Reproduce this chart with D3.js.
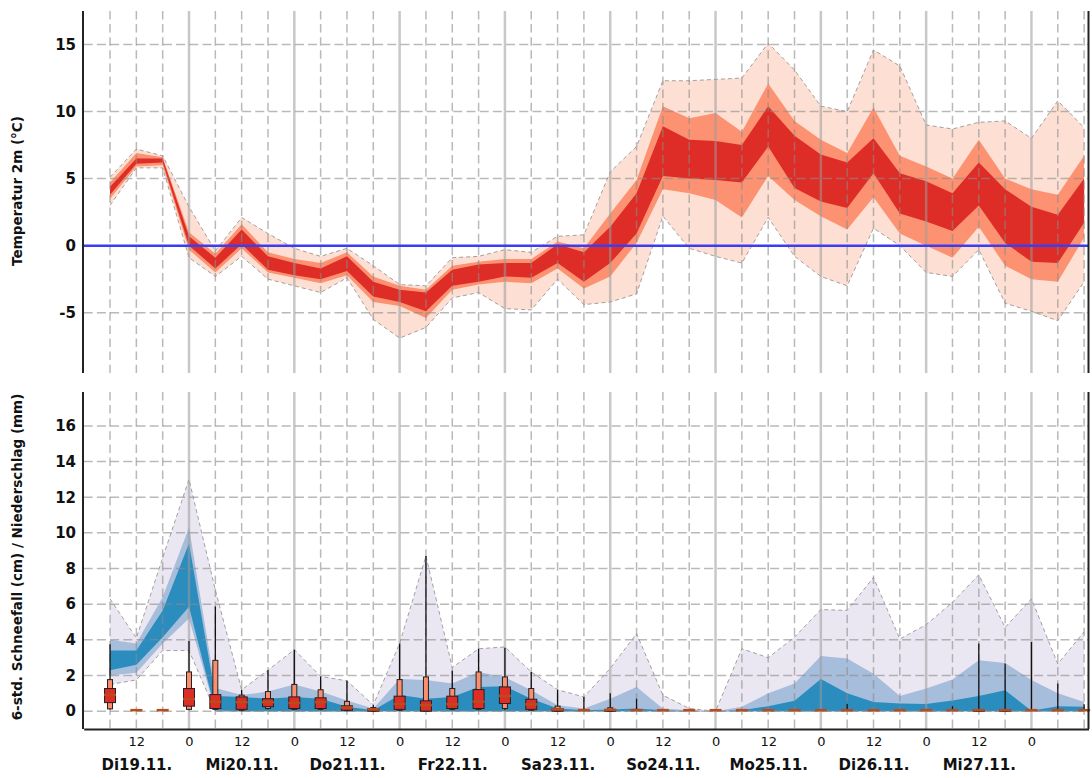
<!DOCTYPE html>
<html>
<head>
<meta charset="utf-8">
<script src="https://cdn.jsdelivr.net/npm/d3@7"></script>
<style>
    body { margin: 0; background: #fff; }
    svg { display: block; font-family: "DejaVu Sans", sans-serif; }
</style>
</head>
<body>
<div id="chart"></div>
<script>
// forecast steps, hours after 19.11. 00:00
var hours = [6, 12, 18, 24, 30, 36, 42, 48, 54, 60, 66, 72, 78, 84, 90, 96, 102, 108, 114, 120,
    126, 132, 138, 144, 150, 156, 162, 168, 174, 180, 186, 192, 198, 204, 210, 216, 222, 228];

// temperature 2m ensemble (°C)
var tMax = [5.1, 7.2, 6.7, 2.9, -0.4, 2.1, 0.9, -0.2, -0.8, -0.2, -1.5, -2.9, -3.0, -0.9, -0.8, -0.3, -0.5, 0.7, 0.8, 5.5,
    7.4, 12.3, 12.3, 12.4, 12.5, 15.1, 13.1, 10.4, 10.0, 14.6, 13.4, 9.0, 8.7, 9.2, 9.3, 8.0, 10.8, 8.8];
var tP90 = [4.7, 6.9, 6.6, 1.0, -0.6, 1.6, -0.5, -1.0, -1.3, -0.5, -2.3, -3.0, -3.3, -1.5, -1.2, -1.0, -1.0, 0.3, -0.2, 2.4,
    4.9, 10.4, 9.5, 9.9, 8.5, 12.1, 9.3, 7.9, 6.9, 10.3, 6.7, 5.9, 5.0, 7.9, 5.0, 4.2, 3.8, 6.7];
var tP75 = [4.4, 6.5, 6.5, 0.7, -0.9, 1.2, -0.8, -1.3, -1.7, -0.8, -2.7, -3.3, -3.5, -1.8, -1.4, -1.3, -1.3, 0.1, -0.5, 1.4,
    3.9, 8.9, 7.9, 7.8, 7.5, 10.4, 8.2, 6.8, 6.2, 8.0, 5.4, 4.8, 3.9, 6.2, 4.2, 2.9, 2.3, 5.0];
var tP25 = [3.8, 6.1, 6.2, 0.0, -1.7, 0.1, -1.8, -2.2, -2.5, -1.9, -3.8, -4.2, -4.9, -3.0, -2.7, -2.3, -2.4, -1.3, -2.7, -1.3,
    0.9, 5.2, 5.0, 4.9, 4.7, 7.4, 4.3, 3.3, 2.8, 5.4, 2.4, 1.8, 1.1, 3.0, 0.2, -1.2, -1.3, 1.7];
var tP10 = [3.5, 5.9, 6.0, -0.3, -2.0, -0.2, -2.0, -2.4, -2.8, -2.2, -4.2, -4.5, -5.4, -3.3, -2.9, -2.7, -2.8, -1.7, -3.2, -2.3,
    0.2, 4.2, 3.9, 3.4, 2.1, 5.2, 3.4, 2.2, 1.2, 3.6, 0.9, 0.0, -0.9, 1.4, -1.5, -2.5, -2.7, 0.6];
var tMin = [3.0, 5.8, 5.8, -0.9, -2.3, -0.8, -2.5, -3.0, -3.5, -2.4, -5.5, -6.9, -6.1, -3.9, -3.5, -4.7, -4.8, -2.5, -4.4, -4.2,
    -3.6, 2.2, -0.2, -0.8, -1.3, 2.1, -0.8, -2.3, -3.0, 1.3, 0.0, -2.0, -2.3, -0.3, -4.3, -4.9, -5.6, -2.7];

// 6h precipitation ensemble (mm)
var pMax = [6.3, 4.1, 8.6, 13.0, 6.8, 1.2, 2.3, 3.45, 1.95, 1.7, 0.35, 3.8, 8.7, 2.45, 3.5, 3.6, 2.2, 1.2, 0.8, 2.4,
    4.35, 0.9, 0.15, 0, 3.5, 3.0, 4.15, 5.7, 5.65, 7.5, 4.05, 4.85, 6.1, 7.65, 4.7, 6.3, 2.65, 4.45];
var pP90 = [4.0, 3.8, 6.4, 10.3, 1.3, 0.9, 1.1, 1.5, 1.1, 0.6, 0.15, 1.8, 1.75, 1.55, 2.2, 1.9, 1.17, 0.33, 0.15, 0.7,
    1.36, 0.15, 0.05, 0, 0.25, 1.0, 1.55, 3.1, 2.95, 2.1, 0.85, 1.27, 1.77, 2.85, 2.7, 1.75, 1.0, 0.52];
var pP75 = [3.4, 3.4, 5.65, 9.4, 0.85, 0.8, 0.7, 0.8, 0.7, 0.25, 0.05, 0.9, 0.7, 0.8, 1.35, 1.4, 0.7, 0.15, 0.05, 0.1,
    0.15, 0.05, 0, 0, 0.05, 0.28, 0.58, 1.8, 1.0, 0.52, 0.43, 0.4, 0.6, 0.85, 1.17, 0.02, 0.28, 0.25];
var pP25 = [2.3, 2.6, 4.15, 5.85, 0.05, 0, 0, 0, 0, 0, 0, 0, 0, 0, 0, 0, 0, 0, 0, 0,
    0, 0, 0, 0, 0, 0, 0, 0, 0, 0, 0, 0, 0, 0, 0, 0, 0, 0];
var pP10 = [2.0, 2.15, 3.8, 5.2, 0, 0, 0, 0, 0, 0, 0, 0, 0, 0, 0, 0, 0, 0, 0, 0,
    0, 0, 0, 0, 0, 0, 0, 0, 0, 0, 0, 0, 0, 0, 0, 0, 0, 0];
var pMin = [1.5, 1.75, 3.4, 3.4, 0, 0, 0, 0, 0, 0, 0, 0, 0, 0, 0, 0, 0, 0, 0, 0,
    0, 0, 0, 0, 0, 0, 0, 0, 0, 0, 0, 0, 0, 0, 0, 0, 0, 0];

// 6h snowfall boxes (cm)
var sMax = [3.75, 0, 0, 3.93, 5.87, 1.2, 2.3, 3.45, 1.95, 1.7, 0.35, 3.79, 8.7, 2.26, 3.5, 3.56, 2.2, 1.2, 0.8, 1.0,
    0.7, 0, 0, 0, 0, 0, 0, 0, 0.4, 0, 0, 0, 0.28, 3.79, 2.67, 3.88, 1.55, 0.39];
var sP90 = [1.77, 0, 0, 2.2, 2.85, 0.9, 1.1, 1.5, 1.2, 0.55, 0.2, 1.77, 1.92, 1.27, 2.2, 1.92, 1.27, 0.28, 0, 0.19,
    0, 0, 0, 0, 0, 0, 0, 0, 0, 0, 0, 0, 0, 0.05, 0.05, 0, 0, 0];
var sP75 = [1.27, 0, 0, 1.27, 0.93, 0.8, 0.7, 0.8, 0.75, 0.3, 0.15, 0.84, 0.58, 0.84, 1.21, 1.36, 0.67, 0.15, 0, 0.05,
    0, 0, 0, 0, 0, 0, 0, 0, 0, 0, 0, 0, 0, 0.05, 0.05, 0, 0, 0];
var sMed = [0.86, 0, 0, 0.62, 0.47, 0.45, 0.45, 0.4, 0.45, 0.15, 0.05, 0.35, 0.28, 0.34, 0.48, 0.8, 0.33, 0.05, 0, 0.02,
    0, 0, 0, 0, 0, 0, 0, 0, 0, 0, 0, 0, 0, 0, 0, 0, 0, 0];
var sP25 = [0.48, 0, 0, 0.28, 0.15, 0.1, 0.25, 0.15, 0.15, 0.05, 0, 0.1, 0, 0.15, 0.15, 0.43, 0.1, 0, 0, 0,
    0, 0, 0, 0, 0, 0, 0, 0, 0, 0, 0, 0, 0, 0, 0, 0, 0, 0];
var sP10 = [0.13, 0, 0, 0.1, 0.1, 0.05, 0.15, 0.1, 0.1, 0.03, 0, 0.05, 0, 0.1, 0.1, 0.15, 0.05, 0, 0, 0,
    0, 0, 0, 0, 0, 0, 0, 0, 0, 0, 0, 0, 0, 0, 0, 0, 0, 0];
var sMin = [0.1, 0, 0, 0.05, 0.05, 0, 0.1, 0.05, 0.05, 0, 0, 0, 0, 0.05, 0.05, 0.05, 0.03, 0, 0, 0,
    0, 0, 0, 0, 0, 0, 0, 0, 0, 0, 0, 0, 0, 0, 0, 0, 0, 0];

var dayLabels = ["Di19.11.", "Mi20.11.", "Do21.11.", "Fr22.11.", "Sa23.11.", "So24.11.", "Mo25.11.", "Di26.11.", "Mi27.11."];
var tempTicks = [15, 10, 5, 0, -5];
var precTicks = [0, 2, 4, 6, 8, 10, 12, 14, 16];

function at(h) { return new Date(Date.UTC(2024, 10, 19, h)); }

var rows = hours.map(function (h, i) {
    return {
        t: at(h), h: h,
        tMax: tMax[i], tP90: tP90[i], tP75: tP75[i], tP25: tP25[i], tP10: tP10[i], tMin: tMin[i],
        pMax: pMax[i], pP90: pP90[i], pP75: pP75[i], pP25: pP25[i], pP10: pP10[i], pMin: pMin[i],
        sMax: sMax[i], sP90: sP90[i], sP75: sP75[i], sMed: sMed[i], sP25: sP25[i], sP10: sP10[i], sMin: sMin[i]
    };
});

var width = 1092, height = 778;
var svg = d3.select("#chart").append("svg")
    .attr("width", width)
    .attr("height", height);

var x = d3.scaleUtc()
    .domain([at(0), at(229)])
    .range([83.7, 1088.5]);

var panelT = {y0: 11, y1: 373};
var panelB = {y0: 392, y1: 729};

var yT = d3.scaleLinear().domain([-9.5, 17.5]).range([panelT.y1, panelT.y0]);
var yP = d3.scaleLinear().domain([-1, 17.9]).range([panelB.y1, panelB.y0]);

function band(y, lo, hi) {
    return d3.area()
        .x(function (d) { return x(d.t); })
        .y0(function (d) { return y(d[lo]); })
        .y1(function (d) { return y(d[hi]); });
}
function edge(y, key) {
    return d3.line()
        .x(function (d) { return x(d.t); })
        .y(function (d) { return y(d[key]); });
}

function grid(g, y, ticks, panel) {
    g.selectAll(".vgrid")
        .data(hours)
        .enter().append("line")
        .attr("x1", function (h) { return x(at(h)); })
        .attr("x2", function (h) { return x(at(h)); })
        .attr("y1", panel.y0)
        .attr("y2", panel.y1)
        .attr("stroke", function (h) { return h % 24 === 0 ? "#9a9a9a" : "#8a8a8a"; })
        .attr("stroke-opacity", function (h) { return h % 24 === 0 ? 0.55 : 0.6; })
        .attr("stroke-width", function (h) { return h % 24 === 0 ? 2.5 : 1.5; })
        .attr("stroke-dasharray", function (h) { return h % 24 === 0 ? null : "8.5,4.6"; });

    g.selectAll(".hgrid")
        .data(ticks)
        .enter().append("line")
        .attr("x1", x.range()[0])
        .attr("x2", x.range()[1])
        .attr("y1", function (v) { return y(v); })
        .attr("y2", function (v) { return y(v); })
        .attr("stroke", "#8a8a8a")
        .attr("stroke-opacity", 0.6)
        .attr("stroke-width", 1.5)
        .attr("stroke-dasharray", "9,4.2");
}

// ---- temperature panel
var gT = svg.append("g");
gT.append("path").datum(rows).attr("d", band(yT, "tMin", "tMax")).attr("fill", "#fde0d3");
gT.append("path").datum(rows).attr("d", band(yT, "tP10", "tP90")).attr("fill", "#fc9272");
gT.append("path").datum(rows).attr("d", band(yT, "tP25", "tP75")).attr("fill", "#de2d26");
["tMin", "tMax"].forEach(function (k) {
    gT.append("path").datum(rows).attr("d", edge(yT, k))
        .attr("fill", "none").attr("stroke", "#8c8c8c").attr("stroke-width", 0.8)
        .attr("stroke-dasharray", "4,3");
});
grid(gT, yT, tempTicks.filter(function (v) { return v !== 0; }), panelT);
gT.append("line")
    .attr("x1", x.range()[0]).attr("x2", x.range()[1])
    .attr("y1", yT(0)).attr("y2", yT(0))
    .attr("stroke", "#3c3cf0").attr("stroke-width", 2.5);

// ---- precipitation / snowfall panel
var gP = svg.append("g");
gP.append("path").datum(rows).attr("d", band(yP, "pMin", "pMax")).attr("fill", "#ebe7f2");
gP.append("path").datum(rows).attr("d", band(yP, "pP10", "pP90")).attr("fill", "#a6bddb");
gP.append("path").datum(rows).attr("d", band(yP, "pP25", "pP75")).attr("fill", "#2b8cbe");
["pMin", "pMax"].forEach(function (k) {
    gP.append("path").datum(rows).attr("d", edge(yP, k))
        .attr("fill", "none").attr("stroke", "#8c8c8c").attr("stroke-width", 0.8)
        .attr("stroke-dasharray", "4,3");
});
grid(gP, yP, precTicks, panelB);

var box = gP.selectAll(".box")
    .data(rows)
    .enter().append("g")
    .attr("class", "box")
    .attr("transform", function (d) { return "translate(" + x(d.t) + ",0)"; });

box.filter(function (d) { return d.sMax > d.sMin; })
    .append("line")
    .attr("y1", function (d) { return yP(d.sMin); })
    .attr("y2", function (d) { return yP(d.sMax); })
    .attr("stroke", "#111").attr("stroke-width", 1.3);

box.filter(function (d) { return d.sP90 > d.sP10; })
    .append("rect")
    .attr("x", -2.5).attr("width", 5)
    .attr("y", function (d) { return yP(d.sP90); })
    .attr("height", function (d) { return yP(d.sP10) - yP(d.sP90); })
    .attr("fill", "#fc8d6e").attr("stroke", "#222").attr("stroke-width", 1);

box.filter(function (d) { return d.sP75 > d.sP25; })
    .append("rect")
    .attr("x", -5.5).attr("width", 11)
    .attr("y", function (d) { return yP(d.sP75); })
    .attr("height", function (d) { return yP(d.sP25) - yP(d.sP75); })
    .attr("fill", "#de2d26").attr("stroke", "#222").attr("stroke-width", 1);

box.append("line")
    .attr("x1", -6).attr("x2", 6)
    .attr("y1", function (d) { return yP(d.sMed) - 1; })
    .attr("y2", function (d) { return yP(d.sMed) - 1; })
    .attr("stroke", "#b84c1c").attr("stroke-width", 2.5);

// ---- axes
function styleAxis(g, size, weight) {
    g.selectAll("text")
        .attr("font-family", "DejaVu Sans, sans-serif")
        .attr("font-size", size)
        .attr("font-weight", weight)
        .attr("fill", "#111");
    g.select(".domain").attr("stroke", "#222").attr("stroke-width", 2);
}

var axT = svg.append("g")
    .attr("transform", "translate(83,0)")
    .call(d3.axisLeft(yT).tickValues(tempTicks).tickSize(0).tickSizeOuter(0).tickPadding(7)
        .tickFormat(function (v) { return v; }));
axT.select(".domain").attr("d", "M0," + panelT.y1 + "V" + panelT.y0);
styleAxis(axT, 15, "bold");

var axP = svg.append("g")
    .attr("transform", "translate(83,0)")
    .call(d3.axisLeft(yP).tickValues(precTicks).tickSize(0).tickSizeOuter(0).tickPadding(7));
axP.select(".domain").attr("d", "M0," + panelB.y1 + "V" + panelB.y0);
styleAxis(axP, 15, "bold");

// right frame lines
[panelT, panelB].forEach(function (p) {
    svg.append("line")
        .attr("x1", x.range()[1]).attr("x2", x.range()[1])
        .attr("y1", p.y0).attr("y2", p.y1)
        .attr("stroke", "#222").attr("stroke-width", 2);
});

var hourTicks = hours.filter(function (h) { return h % 12 === 0 && h < 228; }).map(at);
var axH = svg.append("g")
    .attr("transform", "translate(0," + panelB.y1 + ")")
    .call(d3.axisBottom(x).tickValues(hourTicks).tickSize(0).tickSizeOuter(0).tickPadding(8)
        .tickFormat(function (d) { return d.getUTCHours() === 0 ? "0" : "12"; }));
styleAxis(axH, 13, "normal");

var noonTicks = dayLabels.map(function (l, i) { return at(12 + 24 * i); });
var axD = svg.append("g")
    .attr("transform", "translate(0," + panelB.y1 + ")")
    .call(d3.axisBottom(x).tickValues(noonTicks).tickSize(0).tickPadding(30)
        .tickFormat(function (d, i) { return dayLabels[i]; }));
axD.select(".domain").remove();
styleAxis(axD, 15, "bold");

// axis titles
svg.append("text")
    .attr("transform", "translate(17," + 191 + ") rotate(-90)")
    .attr("text-anchor", "middle").attr("dominant-baseline", "central")
    .attr("font-size", 13.5).attr("font-weight", "bold").attr("fill", "#111")
    .text("Temperatur 2m (°C)");
svg.append("text")
    .attr("transform", "translate(17," + 557 + ") rotate(-90)")
    .attr("text-anchor", "middle").attr("dominant-baseline", "central")
    .attr("font-size", 13.5).attr("font-weight", "bold").attr("fill", "#111")
    .text("6-std. Schneefall (cm) / Niederschlag (mm)");
</script>
</body>
</html>
